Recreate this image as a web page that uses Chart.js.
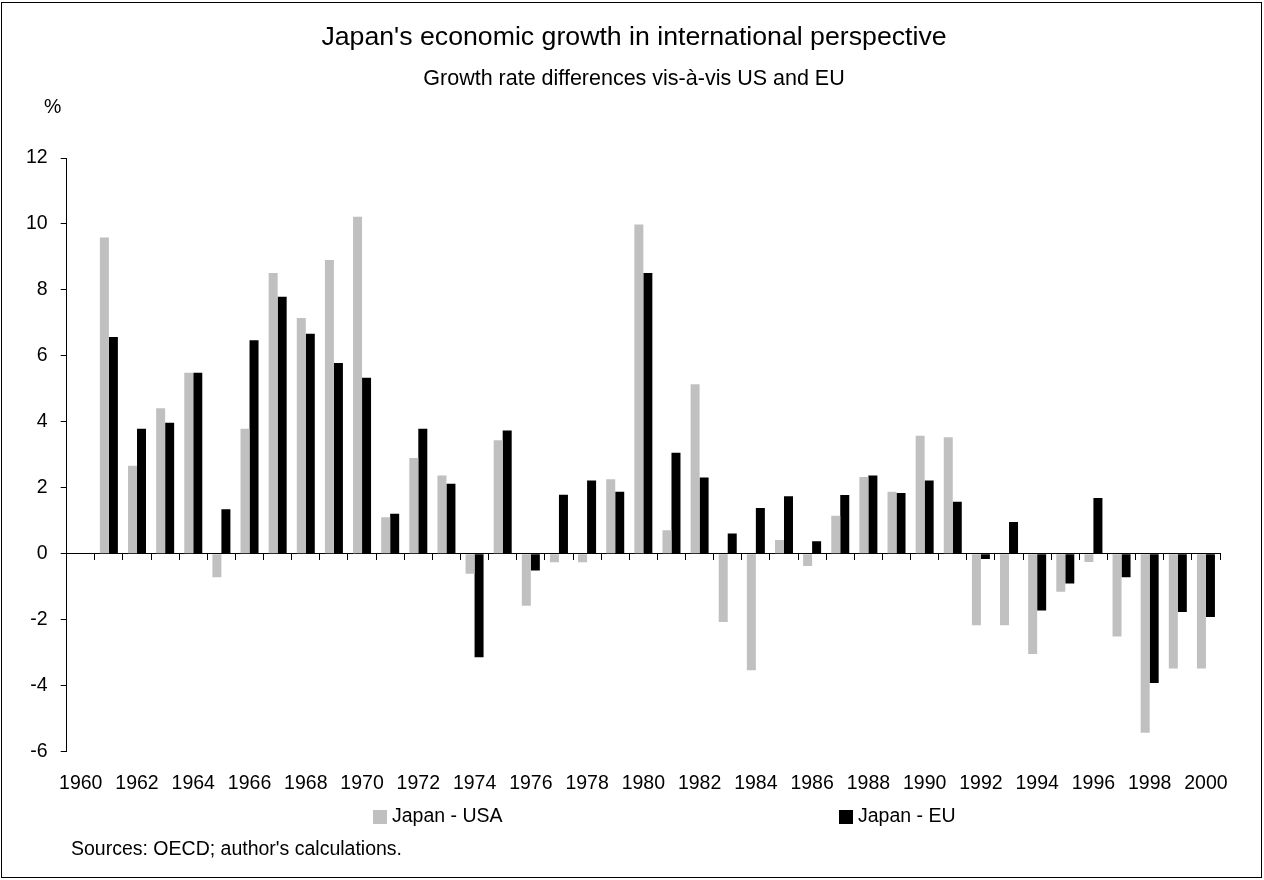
<!DOCTYPE html>
<html>
<head>
<meta charset="utf-8">
<title>Japan's economic growth in international perspective</title>
<script src="https://cdn.jsdelivr.net/npm/chart.js@4.4.1/dist/chart.umd.min.js"></script>
<style>
    html, body { margin: 0; padding: 0; background: #fff; }
    #wrap { position: relative; width: 1264px; height: 880px; }
</style>
</head>
<body>
<div id="wrap"><canvas id="growthChart"></canvas></div>
<script>
// --- DATA ---
const years = ['1960', '1961', '1962', '1963', '1964', '1965', '1966', '1967', '1968', '1969',
    '1970', '1971', '1972', '1973', '1974', '1975', '1976', '1977', '1978', '1979',
    '1980', '1981', '1982', '1983', '1984', '1985', '1986', '1987', '1988', '1989',
    '1990', '1991', '1992', '1993', '1994', '1995', '1996', '1997', '1998', '1999', '2000'];

// growth rate differences, percentage points (no value for 1960)
const japanUsa = [null, 9.59, 2.67, 4.41, 5.49, -0.71, 3.79, 8.51, 7.15, 8.91,
    10.22, 1.11, 2.90, 2.37, -0.61, 3.44, -1.58, -0.26, -0.26, 2.26,
    9.98, 0.71, 5.14, -2.07, -3.53, 0.42, -0.37, 1.15, 2.33, 1.88,
    3.58, 3.53, -2.17, -2.17, -3.04, -1.15, -0.25, -2.51, -5.43, -3.48, -3.48];
const japanEu = [null, 6.57, 3.79, 3.97, 5.49, 1.35, 6.47, 7.79, 6.67, 5.78,
    5.34, 1.21, 3.79, 2.12, -3.14, 3.74, -0.51, 1.79, 2.22, 1.88,
    8.51, 3.06, 2.31, 0.61, 1.39, 1.74, 0.38, 1.78, 2.37, 1.84,
    2.22, 1.58, -0.16, 0.96, -1.72, -0.90, 1.69, -0.71, -3.92, -1.77, -1.92];

const yTickValues = [-6, -4, -2, 0, 2, 4, 6, 8, 10, 12];
const xTickLabels = ['1960', '1962', '1964', '1966', '1968', '1970', '1972', '1974', '1976', '1978',
    '1980', '1982', '1984', '1986', '1988', '1990', '1992', '1994', '1996', '1998', '2000'];

const FONT = "'Liberation Sans', Arial, Helvetica, sans-serif";
const tickFont = { family: FONT, size: 19.5 };

Chart.defaults.font.family = FONT;
Chart.defaults.color = '#000';

// Frame, headings, "%" unit, legend row and source note
const chartNotes = {
    id: 'chartNotes',
    beforeDraw(chart) {
        const ctx = chart.ctx;
        ctx.save();
        ctx.fillStyle = '#fff';
        ctx.fillRect(0, 0, chart.width, chart.height);
        ctx.restore();
    },
    afterDraw(chart, args, opts) {
        const ctx = chart.ctx;
        ctx.save();
        ctx.strokeStyle = '#000';
        ctx.lineWidth = 1;
        ctx.strokeRect(1.5, 2.5, chart.width - 4, chart.height - 5);

        ctx.fillStyle = '#000';
        ctx.textBaseline = 'alphabetic';

        ctx.textAlign = 'center';
        ctx.font = `26.7px ${FONT}`;
        ctx.fillText(opts.title, opts.headX, opts.titleY);
        ctx.font = `21.5px ${FONT}`;
        ctx.fillText(opts.subtitle, opts.headX, opts.subtitleY);

        ctx.textAlign = 'left';
        ctx.font = `19.5px ${FONT}`;
        ctx.fillText('%', opts.unitX, opts.unitY);
        ctx.fillText(opts.note, opts.noteX, opts.noteY);

        // legend row
        ctx.textBaseline = 'middle';
        chart.data.datasets.forEach((ds, i) => {
            const x = opts.legendX[i];
            ctx.fillStyle = ds.backgroundColor;
            ctx.fillRect(x, opts.legendY - 7, 14, 14);
            ctx.fillStyle = '#000';
            ctx.fillText(ds.label, x + 19, opts.legendY);
        });
        ctx.restore();
    }
};

const ctx = document.getElementById('growthChart').getContext('2d');
new Chart(ctx, {
    type: 'bar',
    data: {
        labels: years,
        datasets: [
            {
                label: 'Japan - USA',
                data: japanUsa,
                backgroundColor: '#c0c0c0',
                xAxisID: 'x',
                yAxisID: 'y'
            },
            {
                label: 'Japan - EU',
                data: japanEu,
                backgroundColor: '#000000',
                xAxisID: 'x',
                yAxisID: 'y'
            }
        ]
    },
    options: {
        responsive: true,
        maintainAspectRatio: false,
        animation: false,
        devicePixelRatio: 1,
        categoryPercentage: 0.64,
        barPercentage: 1.0,
        layout: {
            padding: { left: 13, right: 44, top: 158, bottom: 65 }
        },
        scales: {
            // axis line with tick marks on the zero value
            x: {
                axis: 'x',
                type: 'category',
                position: { y: 0 },
                offset: true,
                z: 1,
                grid: {
                    offset: true,
                    drawOnChartArea: false,
                    drawTicks: true,
                    tickLength: 6,
                    color: '#000',
                    lineWidth: 1
                },
                border: { display: true, color: '#000', width: 1 },
                ticks: { display: false, autoSkip: false }
            },
            // year labels along the bottom
            xLabels: {
                axis: 'x',
                type: 'category',
                position: 'bottom',
                offset: true,
                grid: { display: false, drawTicks: false },
                border: { display: false },
                ticks: {
                    autoSkip: false,
                    maxRotation: 0,
                    minRotation: 0,
                    padding: 20,
                    font: tickFont,
                    color: '#000',
                    callback: function (value, index) {
                        const yr = years[index];
                        return xTickLabels.includes(yr) ? yr : '';
                    }
                }
            },
            y: {
                position: 'left',
                min: yTickValues[0],
                max: yTickValues[yTickValues.length - 1],
                afterBuildTicks: function (scale) {
                    scale.ticks = yTickValues.map(v => ({ value: v }));
                },
                grid: {
                    drawOnChartArea: false,
                    drawTicks: true,
                    tickLength: 6,
                    color: '#000'
                },
                border: { display: true, color: '#000', width: 1 },
                ticks: { padding: 13, font: tickFont, color: '#000' }
            }
        },
        plugins: {
            legend: { display: false },
            title: { display: false },
            tooltip: {
                callbacks: {
                    label: function (context) {
                        return context.dataset.label + ': ' + context.raw + ' %';
                    }
                }
            },
            chartNotes: {
                title: "Japan's economic growth in international perspective",
                subtitle: 'Growth rate differences vis-à-vis US and EU',
                note: 'Sources: OECD; author\'s calculations.',
                headX: 634, titleY: 45, subtitleY: 85,
                unitX: 44, unitY: 113,
                noteX: 71, noteY: 855,
                legendX: [373, 839], legendY: 817
            }
        }
    },
    plugins: [chartNotes]
});
</script>
</body>
</html>
